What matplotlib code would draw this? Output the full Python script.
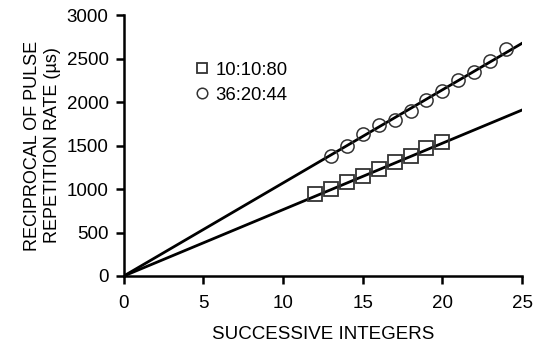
import matplotlib
matplotlib.use("Agg")
import matplotlib.pyplot as plt

plt.rcParams['font.family'] = ['Liberation Sans', 'DejaVu Sans']

# data
sq_x = [12, 13, 14, 15, 16, 17, 18, 19, 20]
sq_y = [939, 1000, 1084, 1149, 1226, 1314, 1379, 1467, 1536]
circ_x = [13, 14, 15, 16, 17, 18, 19, 20, 21, 22, 23, 24]
circ_y = [1379, 1494, 1632, 1736, 1793, 1897, 2023, 2126, 2253, 2348, 2471, 2606]
fit_x = [0, 25]
fit_sq = [0, 1908]
fit_circ = [0, 2675]

fig = plt.figure(figsize=(5.36, 3.45), dpi=100)
ax = fig.add_axes([0.231, 0.2, 0.743, 0.7565])

ax.plot(fit_x, fit_circ, color='black', lw=2, zorder=2)
ax.plot(fit_x, fit_sq, color='black', lw=2, zorder=2)
ax.plot(sq_x, sq_y, 's', ms=9.5, mfc='none', mec='#333333', mew=1.3,
        label='10:10:80', zorder=3)
ax.plot(circ_x, circ_y, 'o', ms=9.5, mfc='none', mec='#333333', mew=1.1,
        label='36:20:44', zorder=3)

ax.set_xlim(0, 25)
ax.set_ylim(0, 3000)
ax.set_xticks([0, 5, 10, 15, 20, 25])
ax.set_yticks([0, 500, 1000, 1500, 2000, 2500, 3000])

for side in ['top', 'right']:
    ax.spines[side].set_visible(False)
for side in ['left', 'bottom']:
    ax.spines[side].set_linewidth(1.8)
ax.tick_params(direction='out', length=6, width=1.8, labelsize=13.5)
ax.tick_params(axis='x', pad=8)
ax.tick_params(axis='y', pad=5)

ax.set_xlabel('SUCCESSIVE INTEGERS', fontsize=13.5, labelpad=10)
ax.set_ylabel('RECIPROCAL OF PULSE\nREPETITION RATE (µs)', fontsize=13,
              labelpad=4, linespacing=1.2)

ax.legend(loc='upper left', bbox_to_anchor=(0.16, 0.85), frameon=False,
          fontsize=13.3, markerscale=0.8, handlelength=0.8, handletextpad=0.3,
          labelspacing=0.45, borderaxespad=0)

fig.savefig('out.png', dpi=100)
